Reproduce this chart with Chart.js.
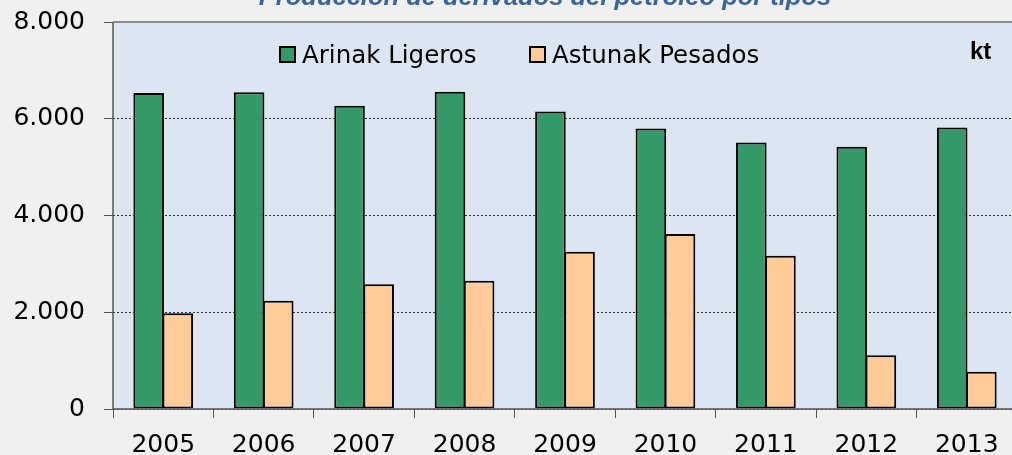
<!DOCTYPE html>
<html>
  <head>
    <meta charset="utf-8" />
    <title>Producción de derivados del petróleo por tipos</title>
    <script src="https://cdn.jsdelivr.net/npm/chart.js@4/dist/chart.umd.min.js"></script>
    <style>
      html, body { margin: 0; padding: 0; background: #f0f0f0; overflow: hidden; }
      #wrap { width: 1020px; height: 455px; position: relative; }
    </style>
  </head>
  <body>
    <div id="wrap"><canvas id="chart"></canvas></div>
    <script>
      const years = ["2005", "2006", "2007", "2008", "2009", "2010", "2011", "2012", "2013"];
      const ligeros = [6530, 6550, 6270, 6560, 6150, 5800, 5510, 5420, 5820];
      const pesados = [1980, 2240, 2580, 2650, 3250, 3620, 3170, 1110, 770];
      const seriesNames = ["Arinak Ligeros", "Astunak Pesados"];
      const titleText = "Producción de derivados del petróleo por tipos";
      const unitText = "kt";

      const FONT = "'DejaVu Sans', Verdana, sans-serif";

      // plot background, top border, title, unit and legend
      const decor = {
        id: "decor",
        beforeDraw(chart) {
          const { ctx, chartArea: a } = chart;
          ctx.save();
          ctx.fillStyle = "#dce6f2";
          ctx.fillRect(a.left, a.top, a.right - a.left, a.bottom - a.top);
          ctx.restore();
        },
        afterDraw(chart) {
          const { ctx, chartArea: a } = chart;
          ctx.save();
          // top border
          ctx.strokeStyle = "#8c8c8c";
          ctx.lineWidth = 2;
          ctx.beginPath();
          ctx.moveTo(a.left, a.top);
          ctx.lineTo(a.right, a.top);
          ctx.stroke();
          // axes lines
          ctx.strokeStyle = "#555";
          ctx.lineWidth = 1.5;
          ctx.beginPath();
          ctx.moveTo(a.left, a.top);
          ctx.lineTo(a.left, a.bottom);
          ctx.lineTo(a.right, a.bottom);
          ctx.stroke();

          // title (cut at the top like the original)
          ctx.fillStyle = "#3a659c";
          ctx.font = "italic bold 25.5px 'Liberation Sans', Arial, sans-serif";
          ctx.textAlign = "center";
          ctx.textBaseline = "alphabetic";
          ctx.fillText(titleText, 545, 5);

          // unit
          ctx.fillStyle = "#000";
          ctx.font = "bold 24px 'Liberation Sans', Arial, sans-serif";
          ctx.textAlign = "left";
          ctx.textBaseline = "middle";
          ctx.fillText(unitText, 970, 52);

          // legend
          ctx.font = "24.5px " + FONT;
          ctx.textBaseline = "alphabetic";
          const xs = [280, 530];
          chart.data.datasets.forEach((ds, i) => {
            const x = xs[i];
            ctx.fillStyle = ds.backgroundColor;
            ctx.fillRect(x, 47, 15, 15);
            ctx.strokeStyle = "#000";
            ctx.lineWidth = 2;
            ctx.strokeRect(x, 47, 15, 15);
            ctx.fillStyle = "#000";
            ctx.fillText(ds.label, x + 22, 63);
          });
          ctx.restore();
        }
      };

      const noPad = (scale) => {
        scale.paddingTop = 0;
        scale.paddingBottom = 0;
      };

      new Chart(document.getElementById("chart"), {
        type: "bar",
        data: {
          labels: years,
          datasets: [
            {
              label: seriesNames[0],
              data: ligeros,
              backgroundColor: "#339966",
              borderColor: "#000",
              borderWidth: 2,
              borderSkipped: false,
              categoryPercentage: 0.58,
              barPercentage: 1.05
            },
            {
              label: seriesNames[1],
              data: pesados,
              backgroundColor: "#ffcc99",
              borderColor: "#000",
              borderWidth: 2,
              borderSkipped: false,
              categoryPercentage: 0.58,
              barPercentage: 1.05
            }
          ]
        },
        options: {
          responsive: true,
          maintainAspectRatio: false,
          animation: false,
          layout: { padding: { top: 22, right: 3, left: 0, bottom: 0 } },
          plugins: {
            legend: { display: false },
            tooltip: { enabled: false }
          },
          scales: {
            x: {
              afterFit(scale) { scale.height = 46; },
              grid: {
                drawOnChartArea: false,
                drawTicks: true,
                tickLength: 9,
                tickColor: "#555",
                offset: true
              },
              border: { display: false },
              ticks: {
                color: "#000",
                font: { family: FONT, size: 25 },
                padding: 12,
                maxRotation: 0
              }
            },
            y: {
              min: 0,
              max: 8000,
              afterFit(scale) {
                scale.width = 113;
                noPad(scale);
              },
              grid: {
                color: (c) => (c.tick && c.tick.value === 8000 ? "#8c8c8c" : "#333"),
                lineWidth: 1,
                tickLength: 9,
                tickColor: "#555",
                tickBorderDash: []
              },
              border: { display: false, dash: [2, 2] },
              ticks: {
                stepSize: 2000,
                color: "#000",
                font: { family: FONT, size: 25 },
                padding: 19,
                callback: (v) => v.toLocaleString("de-DE")
              }
            }
          }
        },
        plugins: [decor]
      });
    </script>
  </body>
</html>
